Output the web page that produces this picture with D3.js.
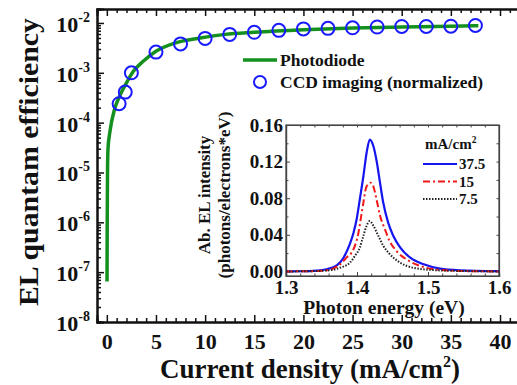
<!DOCTYPE html>
<html>
<head>
<meta charset="utf-8">
<script src="https://cdn.jsdelivr.net/npm/d3@7"></script>
<style>
  body { margin: 0; background: #fff; }
  svg text { font-family: "Liberation Serif", "Times New Roman", serif; font-weight: bold; fill: #111; }
</style>
</head>
<body>
<svg id="chart" width="517" height="385"></svg>
<script>
// main panel data: EQE vs current density
const diodeJ = [0.02, 0.04, 0.07, 0.12, 0.3, 0.8, 1.3, 2.0, 2.7, 3.7, 5.0, 7.0, 9.5, 12.0, 15, 20, 25, 30, 35, 37.8];
const diodeEQE = [6.5e-8, 1e-6, 1e-5, 3e-5, 6.3e-5, 1.9e-4, 3.4e-4, 6.3e-4, 1.07e-3, 1.7e-3, 2.7e-3, 4.0e-3, 5.0e-3, 5.9e-3, 6.5e-3, 7.3e-3, 7.9e-3, 8.3e-3, 8.6e-3, 8.8e-3];
const ccdJ = [1.25, 1.875, 2.5, 5, 7.5, 10, 12.5, 15, 17.5, 20, 22.5, 25, 27.5, 30, 32.5, 35, 37.5];
const ccdEQE = [2.4e-4, 4.1e-4, 1.0e-3, 2.6e-3, 3.8e-3, 4.9e-3, 5.9e-3, 6.5e-3, 7.1e-3, 7.6e-3, 7.8e-3, 8.0e-3, 8.3e-3, 8.5e-3, 8.5e-3, 8.6e-3, 8.9e-3];
const xTicks = [0, 5, 10, 15, 20, 25, 30, 35, 40];
const yExps = [-8, -7, -6, -5, -4, -3, -2];

// inset data: EL spectra
const e375 = [1.30, 1.32, 1.338, 1.357, 1.372, 1.381, 1.39, 1.395, 1.3995, 1.404, 1.409, 1.4136, 1.418, 1.423, 1.428, 1.4324, 1.437, 1.444, 1.451, 1.461, 1.475, 1.494, 1.517, 1.545, 1.60];
const v375 = [0.0, 0.0002, 0.0006, 0.0024, 0.0068, 0.015, 0.030, 0.042, 0.057, 0.079, 0.104, 0.130, 0.144, 0.137, 0.119, 0.097, 0.075, 0.053, 0.039, 0.026, 0.015, 0.0078, 0.003, 0.0012, 0.0003];
const e15 = [1.30, 1.33, 1.352, 1.366, 1.376, 1.385, 1.395, 1.402, 1.406, 1.409, 1.413, 1.419, 1.4225, 1.428, 1.4324, 1.4394, 1.446, 1.456, 1.47, 1.489, 1.517, 1.55, 1.60];
const v15 = [0.0, 0.0002, 0.0008, 0.003, 0.0077, 0.015, 0.024, 0.042, 0.061, 0.075, 0.092, 0.097, 0.094, 0.077, 0.061, 0.046, 0.033, 0.022, 0.013, 0.006, 0.0016, 0.0004, 0.0];
const e75 = [1.30, 1.33, 1.357, 1.376, 1.39, 1.397, 1.404, 1.409, 1.4136, 1.418, 1.423, 1.43, 1.437, 1.446, 1.461, 1.479, 1.508, 1.55, 1.60];
const v75 = [0.0, 0.0002, 0.001, 0.004, 0.0095, 0.017, 0.026, 0.039, 0.050, 0.055, 0.050, 0.039, 0.028, 0.019, 0.0095, 0.004, 0.0015, 0.0004, 0.0];
const insetSeries = [
  { label: "37.5", e: e375, v: v375, color: "#1515f0", dash: null },
  { label: "15", e: e15, v: v15, color: "#f01818", dash: "7,3,2,3" },
  { label: "7.5", e: e75, v: v75, color: "#222", dash: "1.5,1.5" }
];
const insetXTicks = [1.3, 1.4, 1.5, 1.6];
const insetYTicks = [0.00, 0.04, 0.08, 0.12, 0.16];

const svg = d3.select("#chart");
const serif = "Liberation Serif";

// ---- main panel ----
const x = d3.scaleLinear().domain([-1, 43]).range([97, 529.5]);
const y = d3.scaleLog().domain([1e-8, Math.pow(10, -1.72)]).range([322, 9]);

svg.append("clipPath").attr("id", "clip")
  .append("rect").attr("x", 97).attr("y", 9).attr("width", 432).attr("height", 313);

const main = svg.append("g");

// minor ticks
const xMinor = d3.range(0, 43, 1).filter(v => v % 5 !== 0);
const yMinor = [];
yExps.slice(0, -1).forEach(e => { for (let k = 2; k <= 9; k++) yMinor.push(k * Math.pow(10, e)); });

const xAx = main.append("g").attr("transform", "translate(0,322)")
  .call(d3.axisBottom(x).tickValues(xTicks).tickSize(-7).tickPadding(11).tickFormat(d3.format("d")));
main.append("g").attr("transform", "translate(0,322)")
  .call(d3.axisBottom(x).tickValues(xMinor).tickSize(-4).tickFormat(""));
main.append("g").attr("transform", "translate(0,9)")
  .call(d3.axisTop(x).tickValues(xTicks).tickSize(-7).tickFormat(""));
main.append("g").attr("transform", "translate(0,9)")
  .call(d3.axisTop(x).tickValues(xMinor).tickSize(-4).tickFormat(""));

const yAx = main.append("g").attr("transform", "translate(97,0)")
  .call(d3.axisLeft(y).tickValues(yExps.map(e => Math.pow(10, e))).tickSize(-7).tickPadding(8).tickFormat(""));
main.append("g").attr("transform", "translate(97,0)")
  .call(d3.axisLeft(y).tickValues(yMinor).tickSize(-4).tickFormat(""));

main.selectAll(".domain").attr("stroke", "#111").attr("stroke-width", 2);
main.selectAll(".tick line").attr("stroke", "#111").attr("stroke-width", 1.5);
xAx.selectAll("text").attr("font-size", 22).attr("fill", "#111").style("font-family", serif);

yAx.selectAll(".tick").each(function (d, i) {
  const t = d3.select(this).append("text")
    .attr("x", -7).attr("dy", "0.38em").attr("text-anchor", "end")
    .attr("font-size", 22).attr("fill", "#111");
  t.append("tspan").text("10");
  t.append("tspan").attr("font-size", 14).attr("dy", -10).text(String(yExps[i]));
});

// photodiode curve
const lineMain = d3.line().x((d, i) => x(diodeJ[i])).y(d => y(d)).curve(d3.curveMonotoneX);
main.append("path").datum(diodeEQE)
  .attr("clip-path", "url(#clip)")
  .attr("d", lineMain).attr("fill", "none").attr("stroke", "#14901e").attr("stroke-width", 3.5);

main.selectAll("circle.ccd").data(ccdEQE).join("circle").attr("class", "ccd")
  .attr("cx", (d, i) => x(ccdJ[i])).attr("cy", d => y(d)).attr("r", 6.5)
  .attr("fill", "none").attr("stroke", "#1a1aff").attr("stroke-width", 2);

// axis titles
const xt = svg.append("text").attr("x", 310).attr("y", 378).attr("text-anchor", "middle").attr("font-size", 27);
xt.append("tspan").text("Current density (mA/cm");
xt.append("tspan").attr("font-size", 16).attr("dy", -11).text("2");
xt.append("tspan").attr("dy", 11).text(")");
svg.append("text").attr("transform", "translate(38,162) rotate(-90)").attr("text-anchor", "middle")
  .attr("font-size", 28).attr("textLength", 288).attr("lengthAdjust", "spacingAndGlyphs")
  .text("EL quantam efficiency");

// legend
const lg = svg.append("g");
lg.append("line").attr("x1", 243).attr("x2", 277).attr("y1", 60).attr("y2", 60)
  .attr("stroke", "#14901e").attr("stroke-width", 3.5);
lg.append("text").attr("x", 280).attr("y", 66).attr("font-size", 17.5).text("Photodiode");
lg.append("circle").attr("cx", 260).attr("cy", 82).attr("r", 6)
  .attr("fill", "none").attr("stroke", "#1a1aff").attr("stroke-width", 2);
lg.append("text").attr("x", 280).attr("y", 88).attr("font-size", 17.5).text("CCD imaging (normalized)");

// ---- inset ----
const ix = d3.scaleLinear().domain([1.3, 1.6]).range([286, 499]);
const iy = d3.scaleLinear().domain([-0.005, 0.16]).range([276, 125]);
const inset = svg.append("g");
inset.append("rect").attr("x", 286).attr("y", 125).attr("width", 213).attr("height", 151)
  .attr("fill", "#fff").attr("stroke", "#444").attr("stroke-width", 1.2);

const ixMinor = d3.range(1.32, 1.6, 0.02).filter(v => Math.abs(v * 10 - Math.round(v * 10)) > 0.01);
const iyMinor = [0.02, 0.06, 0.10, 0.14];
const ixAx = inset.append("g").attr("transform", "translate(0,276)")
  .call(d3.axisBottom(ix).tickValues(insetXTicks).tickSize(-4).tickPadding(5).tickFormat(d3.format(".1f")));
inset.append("g").attr("transform", "translate(0,276)")
  .call(d3.axisBottom(ix).tickValues(ixMinor).tickSize(-2.5).tickFormat(""));
inset.append("g").attr("transform", "translate(0,125)")
  .call(d3.axisTop(ix).tickValues(insetXTicks.concat(ixMinor)).tickSize(-2.5).tickFormat(""));
const iyAx = inset.append("g").attr("transform", "translate(286,0)")
  .call(d3.axisLeft(iy).tickValues(insetYTicks).tickSize(-4).tickPadding(3).tickFormat(d3.format(".2f")));
inset.append("g").attr("transform", "translate(286,0)")
  .call(d3.axisLeft(iy).tickValues(iyMinor).tickSize(-2.5).tickFormat(""));
inset.append("g").attr("transform", "translate(499,0)")
  .call(d3.axisRight(iy).tickValues(insetYTicks.concat(iyMinor)).tickSize(-2.5).tickFormat(""));
inset.selectAll(".domain").attr("stroke", "#444").attr("stroke-width", 1.2);
inset.selectAll(".tick line").attr("stroke", "#444");
ixAx.selectAll("text").attr("font-size", 19).attr("fill", "#111").style("font-family", serif);
iyAx.selectAll("text").attr("font-size", 19).attr("fill", "#111").style("font-family", serif);

insetSeries.forEach(s => {
  const ln = d3.line().x((d, i) => ix(s.e[i])).y(d => iy(d)).curve(d3.curveMonotoneX);
  inset.append("path").datum(s.v).attr("d", ln).attr("fill", "none")
    .attr("stroke", s.color).attr("stroke-width", s.dash ? 2 : 2.2)
    .attr("stroke-dasharray", s.dash);
});

// inset legend
const ilg = inset.append("g");
const mt = ilg.append("text").attr("x", 425).attr("y", 149).attr("font-size", 15).text("mA/cm");
mt.append("tspan").attr("font-size", 9.5).attr("dy", -6).text("2");
insetSeries.forEach((s, i) => {
  const yy = 164 + i * 17.5;
  ilg.append("line").attr("x1", 423).attr("x2", 457).attr("y1", yy).attr("y2", yy)
    .attr("stroke", s.color).attr("stroke-width", 2).attr("stroke-dasharray", s.dash);
  ilg.append("text").attr("x", 459).attr("y", yy + 5).attr("font-size", 15).text(s.label);
});

// inset titles
inset.append("text").attr("x", 384).attr("y", 314).attr("text-anchor", "middle").attr("font-size", 19.5)
  .text("Photon energy (eV)");
inset.append("text").attr("transform", "translate(210,195) rotate(-90)").attr("text-anchor", "middle")
  .attr("font-size", 17).text("Ab. EL intensity");
inset.append("text").attr("transform", "translate(230,195) rotate(-90)").attr("text-anchor", "middle")
  .attr("font-size", 17).text("(photons/electrons*eV)");
</script>
</body>
</html>
